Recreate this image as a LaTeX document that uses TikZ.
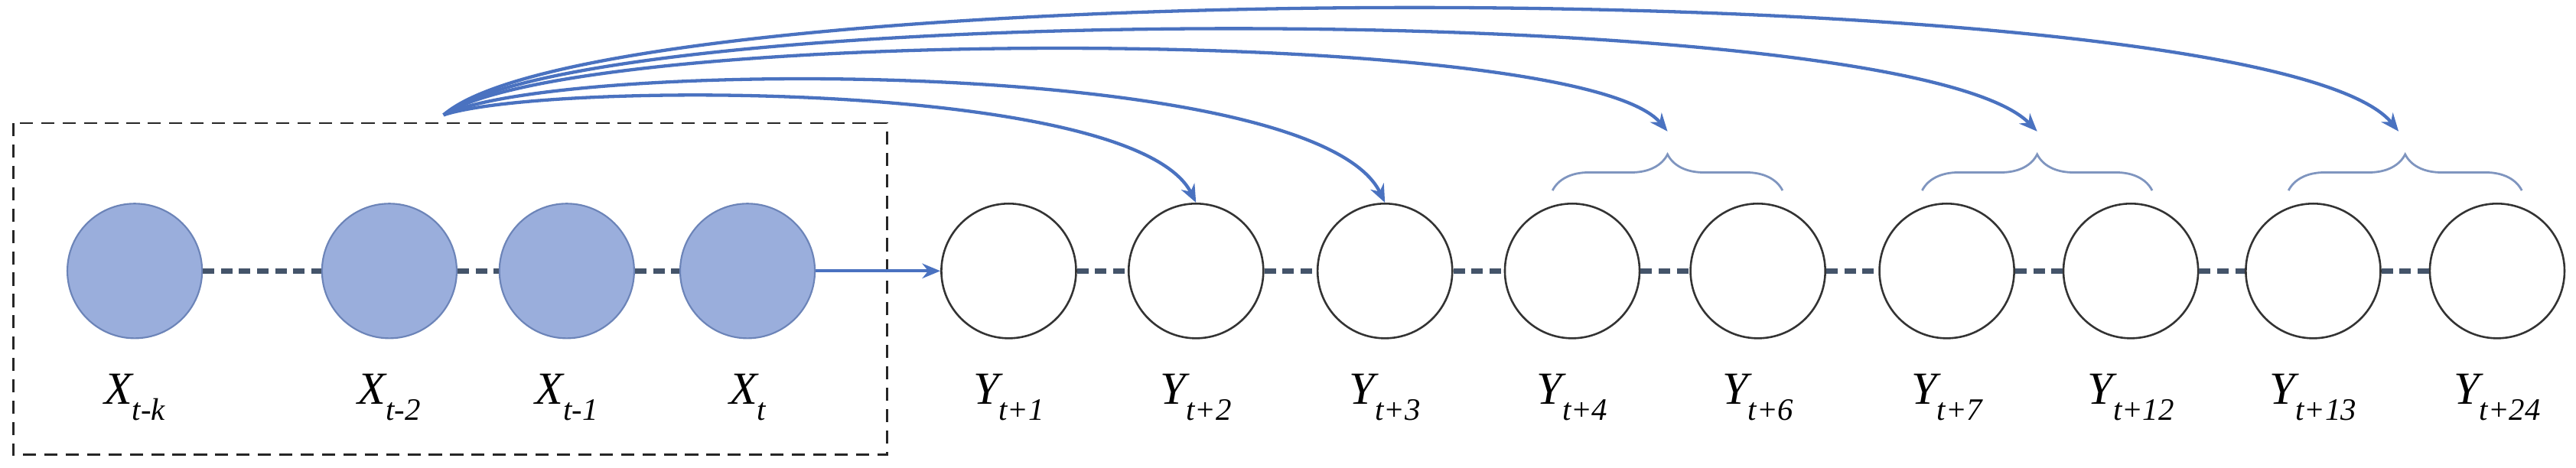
\documentclass[tikz,border=0pt]{standalone}
\usepackage{fontspec}
\setmainfont{Liberation Serif}
\usetikzlibrary{decorations.pathreplacing,arrows.meta}
\definecolor{arcblue}{HTML}{4A72C0}
\definecolor{xfill}{HTML}{9AAEDC}
\definecolor{xdraw}{HTML}{6C84B8}
\definecolor{conn}{HTML}{44546A}
\definecolor{brc}{HTML}{7F95BF}
\tikzset{
 xnode/.style={circle,minimum size=82pt,inner sep=0pt,fill=xfill,draw=xdraw,line width=1pt},
 ynode/.style={circle,minimum size=82pt,inner sep=0pt,draw=black!80,line width=1.2pt},
 lbl/.style={font=\fontsize{28}{28}\selectfont\rmfamily\itshape,inner sep=0pt},
 dconn/.style={draw=conn,line width=3pt,dash pattern=on 7pt off 4pt},
 arc/.style={draw=arcblue,line width=2pt,-{Stealth[length=11pt,width=9pt]}},
 brace/.style={draw=brc,line width=1.3pt,decorate,decoration={brace,amplitude=22pt,aspect=0.5}}
}
\newcommand{\lab}[2]{#1\raisebox{-0.35em}{\fontsize{19}{19}\selectfont #2}}
\begin{document}
\begin{tikzpicture}[x=1pt,y=-1pt]
\useasboundingbox (0,0) rectangle (1568,285);
\draw[black!85,line width=1.3pt,dash pattern=on 8pt off 5pt] (8,75) rectangle (540,277);
\foreach \n/\x/\t in {xk/82/t-k,x2/237/t-2,x1/345/t-1,x0/455/t}{
 \node[xnode] (\n) at (\x,165) {};
 \node[lbl] (\n l) at (\x,242) {\lab{X}{\t}};
}
\foreach \n/\x/\t in {y1/614/t+1,y2/728/t+2,y3/843/t+3,y4/957/t+4,y6/1070/t+6,y7/1185/t+7,y12/1297/t+12,y13/1408/t+13,y24/1520/t+24}{
 \node[ynode] (\n) at (\x,165) {};
 \node[lbl] (\n l) at (\x,242) {\lab{Y}{\t}};
}
\foreach \a/\b in {xk/x2,x2/x1,x1/x0,y1/y2,y2/y3,y3/y4,y4/y6,y6/y7,y7/y12,y12/y13,y13/y24}
 \draw[dconn] (\a) -- (\b);
\draw[arc] (x0) -- (y1);
\coordinate (s) at (270,70);
\draw[brace] (945,116) -- (1085,116);
\draw[brace] (1170,116) -- (1310,116);
\draw[brace] (1393,116) -- (1535,116);
\coordinate (b1) at (1015,80);
\coordinate (b2) at (1240,80);
\coordinate (b3) at (1460,80);
\draw[arc] (s) .. controls (330,50) and (690,48) .. (y2.north);
\draw[arc] (s) .. controls (340,36) and (800,34) .. (y3.north);
\draw[arc] (s) .. controls (350,16) and (960,14) .. (b1);
\draw[arc] (s) .. controls (360,0) and (1160,-2) .. (b2);
\draw[arc] (s) .. controls (370,-18) and (1380,-18) .. (b3);
\end{tikzpicture}
\end{document}
